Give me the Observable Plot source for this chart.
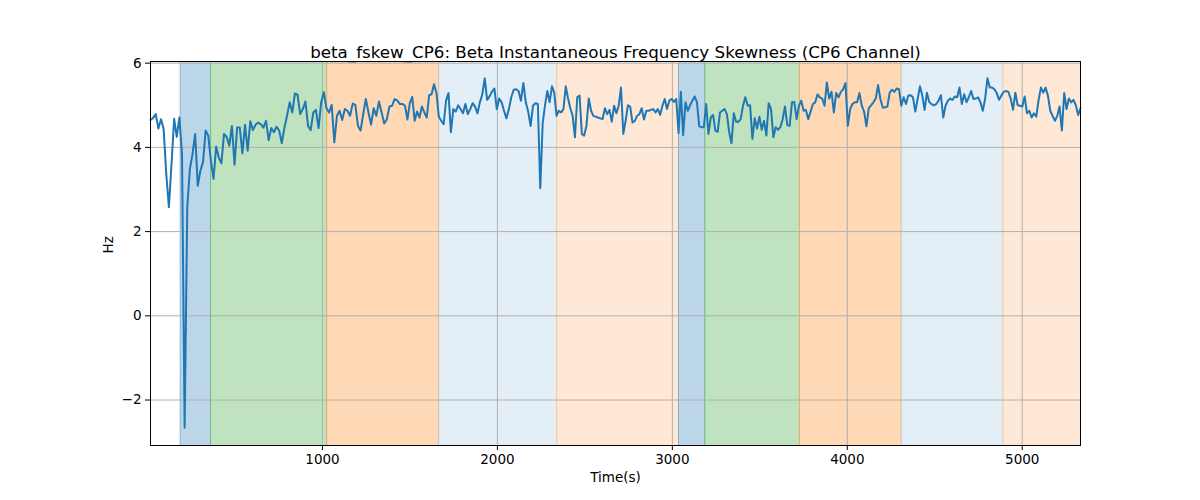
<!DOCTYPE html>
<html>
<head>
<meta charset="utf-8">
<script src="https://cdn.jsdelivr.net/npm/d3@7"></script>
<script src="https://cdn.jsdelivr.net/npm/@observablehq/plot@0.6"></script>
<style>
  html, body { margin: 0; padding: 0; background: #fff; }
  #chart { width: 1200px; height: 500px; }
</style>
</head>
<body>
<div id="chart"></div>
<script>
// ---- Data ----
const titleText = "beta_fskew_CP6: Beta Instantaneous Frequency Skewness (CP6 Channel)";
const xLabel = "Time(s)";
const yLabel = "Hz";
const xTicks = [1000, 2000, 3000, 4000, 5000];
const yTicks = [-2, 0, 2, 4, 6];
const xDomain = [17, 5333];
const yDomain = [-3.08, 6.04];

// segment time spans (s) of the sampled series
const segStart = [17, 1458, 2259, 3431];
const segEnd = [1443, 2245, 3417, 5333];

const seg1 = [
4.65,4.70,4.79,4.45,4.67,4.44,3.37,2.58,3.6,4.68,
4.25,4.71,3.84,-2.66,2.58,3.49,3.84,4.32,3.09,3.45,
3.65,4.40,4.28,3.68,3.25,4.02,3.76,3.62,4.32,4.25,
4.04,4.51,3.59,4.47,4.47,3.86,4.54,3.92,4.62,4.41,
4.54,4.59,4.55,4.47,4.63,4.17,4.46,4.36,4.49,4.40,
4.10,4.47,4.75,5.07,4.83,5.28,5.25,4.79,4.91,5.09,
4.51,4.41,4.83,4.89,4.46,5.07,5.31,4.93,4.83,5.01,
4.12,4.75,4.87,4.65,4.91,4.87,4.75,5.04,5.01,4.51,
4.40,4.79,5.15,4.83,4.54,4.93,4.75,5.09,4.83,4.57,
4.67,4.97,4.99,5.15,5.11,5.03];

const seg2 = [
5.03,4.99,4.66,5.05,5.20,4.63,4.85,4.71,4.97,4.83,
4.71,5.24,5.26,5.50,5.30,4.73,4.63,4.55,5.11,5.29,
4.36,4.91,4.85,5.00,4.91,4.81,5.03,4.79,4.91,5.05,
4.97,4.81,5.07,5.26,5.64,5.13,5.21,5.32,5.40,4.91,
5.16,5.07,4.87,4.69,4.91,5.19,5.37,5.38,5.34,5.11,
5.53,5.07,4.85,4.51,4.99,5.05,5.03,3.03];

const seg3 = [
4.59,5.00,
5.34,5.07,5.45,5.30,4.75,4.87,4.83,4.91,5.45,5.16,
4.93,4.75,4.24,5.19,5.23,4.32,4.28,4.51,5.16,4.87,
4.75,4.73,4.71,4.69,4.67,4.93,4.79,4.89,4.61,4.99,
4.81,4.99,5.42,4.32,4.63,5.00,4.97,4.59,4.63,4.75,
4.79,4.93,4.66,4.87,4.87,4.89,4.91,4.83,4.91,4.77,
4.99,5.15,4.91,5.11,5.15,5.08,5.15,4.34,5.32,4.29,
5.07,4.87,5.00,5.11,5.21,5.07,4.50,4.48,4.48,5.03,
4.32,4.71,4.77,4.40,4.37,4.83,4.87,4.91,4.79,4.36,
4.10,4.81,4.61,4.61,4.67,4.99,5.19];

const seg4 = [
4.99,5.00,4.20,4.69,4.45,4.73,4.42,4.63,4.28,5.05,
4.91,4.24,4.48,4.42,4.48,4.67,4.97,4.53,4.51,5.07,
5.08,4.67,4.99,5.11,4.87,4.89,4.67,4.85,5.03,5.07,
5.26,5.19,5.16,4.99,5.54,5.16,5.32,4.83,5.29,5.19,
5.32,5.38,5.53,4.51,4.91,5.03,5.07,5.07,5.29,4.99,
4.85,4.50,4.93,5.00,5.07,5.16,5.48,5.15,4.95,4.95,
4.97,5.30,5.37,5.32,5.40,5.38,4.99,5.19,5.03,5.23,
5.24,5.19,4.85,5.15,5.45,5.23,4.89,5.30,5.08,5.03,
5.00,5.03,5.11,5.24,4.71,4.99,5.11,5.16,5.13,5.21,
5.19,5.42,5.03,5.26,5.07,5.19,5.34,5.15,5.16,5.19,
5.07,4.87,5.15,5.64,5.42,5.42,5.38,5.29,5.13,5.23,
5.32,5.34,5.32,5.16,4.89,5.30,5.00,4.99,4.97,5.21,
4.81,4.87,4.71,4.81,4.73,5.13,5.42,5.30,5.42,5.23,
4.87,4.75,4.63,4.75,4.97,4.40,5.29,4.91,5.16,5.07,
5.13,5.00,4.77,4.93];

// shaded phase bands
const bandStart = [187, 360, 1024, 1664, 2339, 3035, 3185, 3726, 4308, 4889];
const bandEnd   = [360, 1024, 1664, 2339, 3035, 3185, 3726, 4308, 4889, 5333];
const bandKind  = ["blue", "green", "orange", "lightblue", "lightorange", "blue", "green", "orange", "lightblue", "lightorange"];

// ---- Build tables ----
const segments = [seg1, seg2, seg3, seg4];
const series = [];
segments.forEach((vals, k) => {
  const n = vals.length, a = segStart[k], b = segEnd[k];
  vals.forEach((v, i) => series.push({t: a + (b - a) * i / (n - 1), v}));
});

const kindStyle = {
  blue: {color: "#1f77b4", op: 0.3},
  green: {color: "#2ca02c", op: 0.3},
  orange: {color: "#ff7f0e", op: 0.3},
  lightblue: {color: "#1f77b4", op: 0.12},
  lightorange: {color: "#ff7f0e", op: 0.17}
};
const bands = bandStart.map((s, i) => ({
  x1: s, x2: bandEnd[i],
  color: kindStyle[bandKind[i]].color,
  op: kindStyle[bandKind[i]].op
}));

const font = "DejaVu Sans, sans-serif";
const fmt = d3.format("d");

const marks = [];
for (const b of bands) {
  marks.push(Plot.rect([b], {x1: "x1", x2: "x2", fill: b.color, fillOpacity: b.op}));
  marks.push(Plot.ruleX([b.x1, b.x2], {stroke: b.color, strokeOpacity: b.op, strokeWidth: 1}));
}
marks.push(
  Plot.gridX(xTicks, {stroke: "#b0b0b0", strokeOpacity: 1, strokeWidth: 1}),
  Plot.gridY(yTicks, {stroke: "#b0b0b0", strokeOpacity: 1, strokeWidth: 1}),
  Plot.line(series, {x: "t", y: "v", stroke: "#1f77b4", strokeWidth: 2, strokeLinejoin: "round"}),
  Plot.frame({stroke: "black", strokeWidth: 1}),
  Plot.axisX(xTicks, {tickSize: 5, tickPadding: 4, fontSize: 13.5, label: null, stroke: "black", tickFormat: fmt}),
  Plot.axisY(yTicks, {tickSize: 5, tickPadding: 4, fontSize: 13.5, label: null, stroke: "black"}),
  Plot.text([titleText], {frameAnchor: "top", dy: -15, fontSize: 16.7, fill: "black"}),
  Plot.text([xLabel], {frameAnchor: "bottom", dy: 36, fontSize: 13.5, fill: "black"}),
  Plot.text([yLabel], {frameAnchor: "left", dx: -42, rotate: -90, fontSize: 13.5, fill: "black"})
);

const chart = Plot.plot({
  width: 1200,
  height: 500,
  marginLeft: 150,
  marginRight: 120,
  marginTop: 61,
  marginBottom: 55,
  style: {fontFamily: font, color: "black", background: "white", fontSize: "13.5px"},
  x: {domain: xDomain},
  y: {domain: yDomain},
  marks
});
document.getElementById("chart").appendChild(chart);
</script>
</body>
</html>
